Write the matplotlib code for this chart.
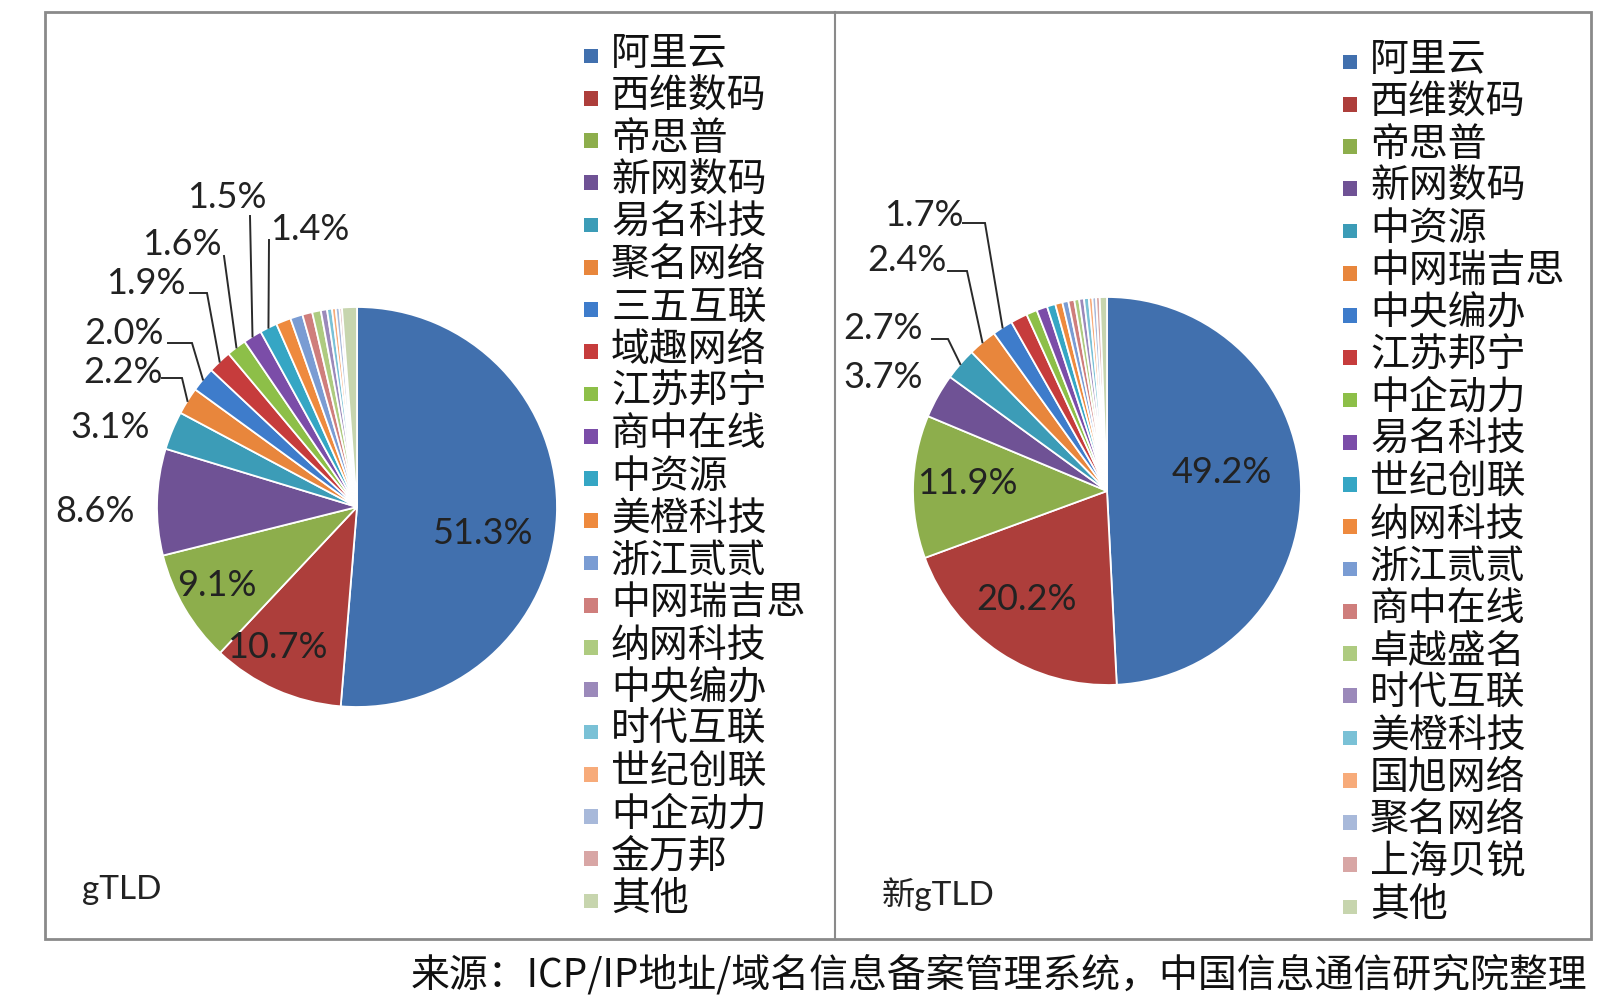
import numpy as np
import matplotlib.pyplot as plt
from matplotlib.patches import Rectangle

plt.rcParams['font.family'] = ['Noto Sans CJK SC', 'DejaVu Sans']

W, H = 1612, 998

# gTLD 注册服务机构份额 (%)
gtld_names = ["阿里云", "西维数码", "帝思普", "新网数码", "易名科技", "聚名网络", "三五互联",
              "域趣网络", "江苏邦宁", "商中在线", "中资源", "美橙科技", "浙江贰贰", "中网瑞吉思",
              "纳网科技", "中央编办", "时代互联", "世纪创联", "中企动力", "金万邦", "其他"]
gtld_share = [51.3, 10.7, 9.1, 8.6, 3.1, 2.2, 2.0, 1.9, 1.6, 1.5, 1.4, 1.2, 1.0, 0.8,
              0.7, 0.5, 0.4, 0.3, 0.3, 0.2, 1.2]

# 新gTLD 注册服务机构份额 (%)
new_names = ["阿里云", "西维数码", "帝思普", "新网数码", "中资源", "中网瑞吉思", "中央编办",
             "江苏邦宁", "中企动力", "易名科技", "世纪创联", "纳网科技", "浙江贰贰", "商中在线",
             "卓越盛名", "时代互联", "美橙科技", "国旭网络", "聚名网络", "上海贝锐", "其他"]
new_share = [49.2, 20.2, 11.9, 3.7, 2.7, 2.4, 1.7, 1.4, 0.9, 0.9, 0.7, 0.6, 0.5, 0.5,
             0.4, 0.4, 0.4, 0.3, 0.3, 0.3, 0.6]

palette = ["#4170AE", "#AD3E3B", "#8DAE4C", "#6F5295", "#3C9CB7", "#E8863C",
           "#3E7CCB", "#C63C3C", "#8DBF48", "#7B4DA8", "#35A6C4", "#EE8A3E",
           "#7A9CD3", "#CF7E7C", "#AECB80", "#9B89BA", "#7AC1D6", "#F7AB7A",
           "#A8B9DA", "#D8A6A5", "#C7D5AE"]

num_font = ['Lato', 'Noto Sans CJK SC']
txt_col = '#222222'


def px(x, y):
    return x, H - y


fig = plt.figure(figsize=(W / 100, H / 100), dpi=100)
ax = fig.add_axes([0, 0, 1, 1])

# 外框和分隔线
ax.add_patch(Rectangle(px(45, 939), 1591 - 45, 939 - 12, fill=False,
                       edgecolor='#8a8a8a', linewidth=2))
ax.plot(*zip(px(835, 12), px(835, 939)), color='#8a8a8a', lw=1.5)


def draw_panel(names, share, center, radius, inside_pos, outside_pos, leaders,
               legend_x, legend_y0, title, title_pos):
    cx, cy = px(*center)
    wedges, _ = ax.pie(share, colors=palette[:len(share)], startangle=90,
                       counterclock=False, center=(cx, cy), radius=radius,
                       wedgeprops=dict(edgecolor='white', linewidth=1.3))

    labels = [f"{v:.1f}%" for v in share]
    # 扇区内部标签
    for i, pos in enumerate(inside_pos):
        ax.text(*px(*pos), labels[i], ha='center', va='center', fontsize=26,
                family=num_font, color=txt_col)
    # 外部标签 + 引导线
    k0 = len(inside_pos)
    for j, pos in enumerate(outside_pos):
        i = k0 + j
        ax.text(*px(*pos), labels[i], ha='center', va='center', fontsize=26,
                family=num_font, color=txt_col)
        if leaders[j] is None:
            continue
        w = wedges[i]
        mid = np.deg2rad((w.theta1 + w.theta2) / 2)
        end = (cx + radius * np.cos(mid), cy + radius * np.sin(mid))
        pts = [px(*p) for p in leaders[j]] + [end]
        xs, ys = zip(*pts)
        ax.plot(xs, ys, color='#2a2a2a', lw=1.4, solid_joinstyle='miter')

    # 图例
    for i, name in enumerate(names):
        y = legend_y0 + i * 42.25
        ax.scatter(*px(legend_x, y + 2), marker='s', s=110, color=palette[i],
                   edgecolors='none')
        ax.text(*px(legend_x + 20, y), name, ha='left', va='center', fontsize=28,
                color='#111111')

    ax.text(*px(*title_pos), title, ha='left', va='center', fontsize=24,
            family=num_font, color=txt_col)


draw_panel(gtld_names, gtld_share, center=(357, 507), radius=200,
           inside_pos=[(482, 533), (277, 647), (217, 585)],
           outside_pos=[(95, 511), (110, 427), (123, 372), (124, 333), (146, 283),
                        (182, 244), (227, 197), (310, 229)],
           leaders=[None, None,
                    [(162, 378), (182, 378)],
                    [(168, 343), (192, 343)],
                    [(190, 293), (207, 293)],
                    [(224, 256)],
                    [(250, 216)],
                    [(269, 240)]],
           legend_x=591, legend_y0=54, title="gTLD", title_pos=(82, 890))

draw_panel(new_names, new_share, center=(1107, 491), radius=194,
           inside_pos=[(1222, 472), (1026, 600), (967, 483)],
           outside_pos=[(883, 377), (883, 328), (907, 260), (924, 215)],
           leaders=[None,
                    [(932, 339), (948, 339)],
                    [(948, 271), (967, 271)],
                    [(963, 223), (985, 223)]],
           legend_x=1350, legend_y0=60, title="新gTLD", title_pos=(882, 894))

# 来源
ax.text(*px(411, 996), "来源：ICP/IP地址/域名信息备案管理系统，中国信息通信研究院整理",
        ha='left', va='bottom', fontsize=28, color='#111111')

ax.set_xlim(0, W)
ax.set_ylim(0, H)
ax.set_aspect('equal')
ax.axis('off')

fig.savefig('out.png', dpi=100, facecolor='white')
